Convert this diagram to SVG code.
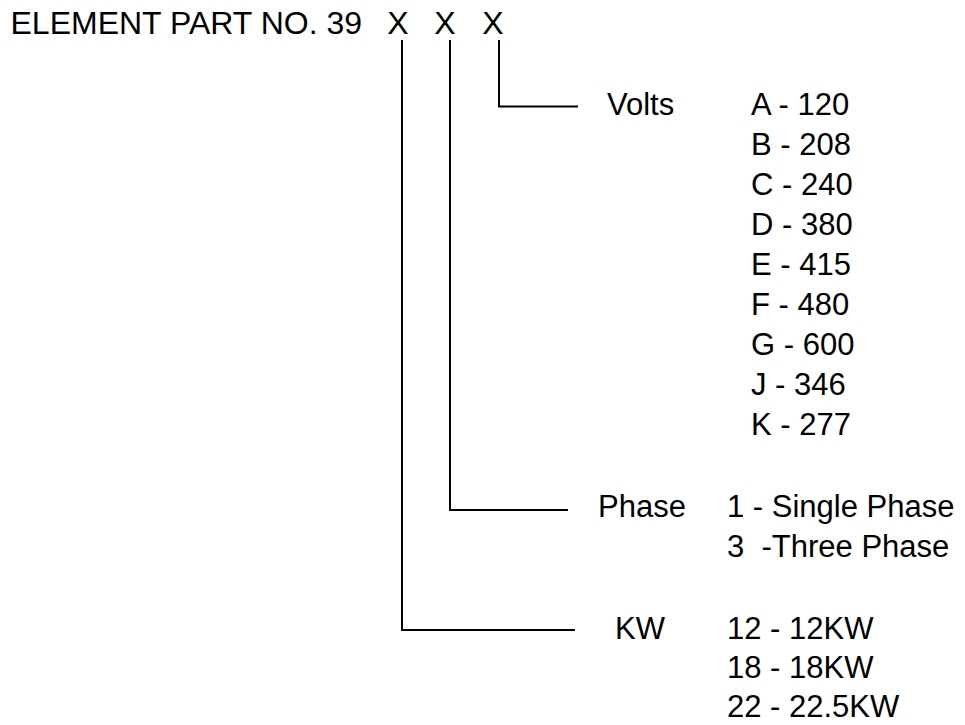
<svg xmlns="http://www.w3.org/2000/svg" width="965" height="725" viewBox="0 0 965 725">
<style>
text{font-family:"Liberation Sans",Arial,sans-serif;fill:#000;font-size:31px;white-space:pre}
.t{font-size:32px}
.c{fill:none;stroke:#000;stroke-width:2}
</style>
<rect width="965" height="725" fill="#fff"/>
<g id="title">
<text class="t" x="10.5" y="34">ELEMENT PART NO. 39</text>
<text class="t" x="398" y="34" text-anchor="middle">X</text>
<text class="t" x="445" y="34" text-anchor="middle">X</text>
<text class="t" x="493" y="34" text-anchor="middle">X</text>
</g>
<g id="connectors">
<polyline class="c" points="499,40 499,106.5 578,106.5"/>
<polyline class="c" points="450,40 450,510 568,510"/>
<polyline class="c" points="402,40 402,630 575,630"/>
</g>
<g id="volts">
<text x="607" y="115">Volts</text>
<text x="751" y="115">A - 120</text>
<text x="751" y="155">B - 208</text>
<text x="751" y="195">C - 240</text>
<text x="751" y="235">D - 380</text>
<text x="751" y="275">E - 415</text>
<text x="751" y="315">F - 480</text>
<text x="751" y="355">G - 600</text>
<text x="751" y="395">J - 346</text>
<text x="751" y="435">K - 277</text>
</g>
<g id="phase">
<text x="598" y="517">Phase</text>
<text x="727" y="517">1 - Single Phase</text>
<text x="727" y="557" xml:space="preserve">3  -Three Phase</text>
</g>
<g id="kw">
<text x="615" y="639">KW</text>
<text x="727" y="639">12 - 12KW</text>
<text x="727" y="678">18 - 18KW</text>
<text x="727" y="717">22 - 22.5KW</text>
</g>
</svg>
